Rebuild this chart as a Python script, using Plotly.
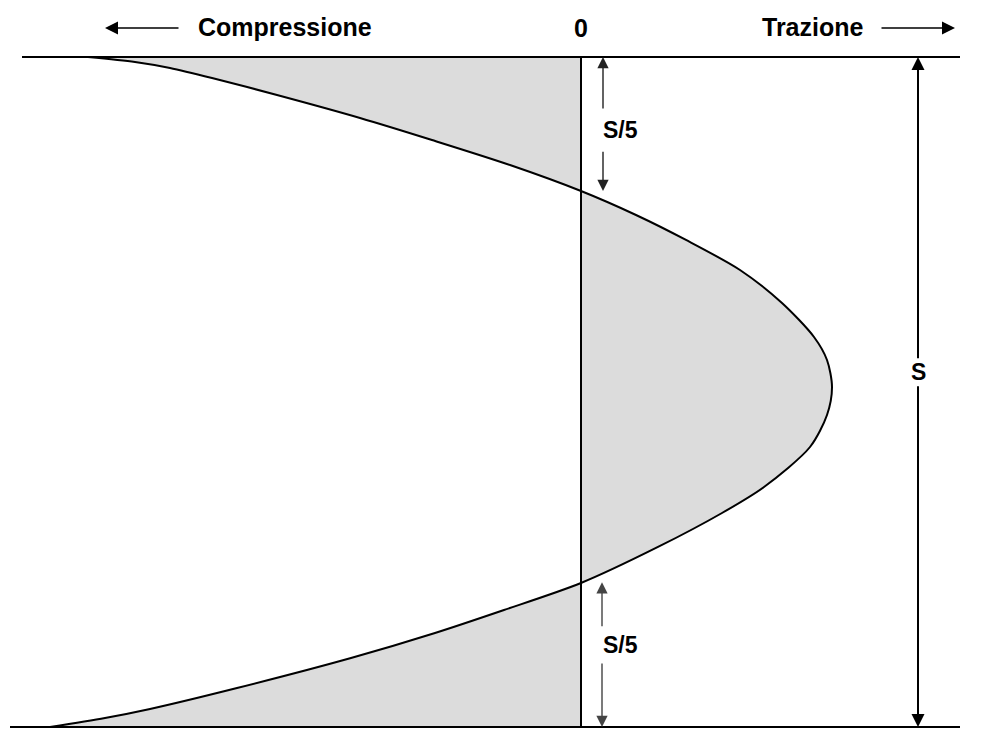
import plotly.graph_objects as go

# Stress profile: depth as fraction of thickness S (0 = top face, 1 = bottom face),
# stress normalised to the central tension peak (negative = compression, positive = tension)
depth = [0.0, 0.0075, 0.0164, 0.0313, 0.0567, 0.0910, 0.1239, 0.1612, 0.2000, 0.2358,
         0.2731, 0.3179, 0.3672, 0.4179, 0.4522, 0.4925, 0.5343, 0.5821, 0.6418, 0.6806,
         0.7313, 0.7851, 0.8254, 0.8597, 0.8970, 0.9418, 0.9731, 0.9866, 1.0]
stress = [-1.972, -1.784, -1.644, -1.476, -1.216, -0.884, -0.596, -0.284, 0.0, 0.22,
          0.42, 0.636, 0.804, 0.932, 0.984, 1.004, 0.984, 0.916, 0.732, 0.564,
          0.308, 0.0, -0.308, -0.584, -0.92, -1.376, -1.724, -1.904, -2.124]

header_labels = ["Compressione", "0", "Trazione"]
dim_labels = ["S/5", "S/5", "S"]

fig = go.Figure()

# shaded stress area
fig.add_trace(go.Scatter(
    x=stress, y=depth, mode="lines", fill="tozerox",
    fillcolor="#dcdcdc", line=dict(color="black", width=2, shape="spline", smoothing=0.8),
    hoverinfo="skip", showlegend=False))

line_col = "black"
# faces of the plate
fig.add_shape(type="line", x0=-2.236, x1=1.516, y0=0, y1=0, line=dict(color=line_col, width=2))
fig.add_shape(type="line", x0=-2.284, x1=1.516, y0=1, y1=1, line=dict(color=line_col, width=2))
# zero stress line
fig.add_shape(type="line", x0=0, x1=0, y0=0, y1=1, line=dict(color=line_col, width=2))

font = dict(family="Liberation Sans, Arial, sans-serif", size=25, color="black", weight="bold")
font_s = dict(family="Liberation Sans, Arial, sans-serif", size=23, color="black", weight="bold")

def arrow(x, y, ax, ay, width=1.5, color="black", size=1.3):
    fig.add_annotation(x=x, y=y, ax=ax, ay=ay, xref="x", yref="y", axref="x", ayref="y",
                       text="", showarrow=True, arrowhead=2, arrowsize=size,
                       arrowwidth=width, arrowcolor=color, standoff=0, startstandoff=0)

# header
arrow(-1.904, -0.0433, -1.604, -0.0433, width=1.3, size=2.0)
arrow(1.496, -0.0433, 1.196, -0.0433, width=1.3, size=2.0)
fig.add_annotation(x=-1.184, y=-0.0448, text=header_labels[0], showarrow=False, font=font,
                   xref="x", yref="y")
fig.add_annotation(x=0.0, y=-0.0433, text=header_labels[1], showarrow=False, font=font,
                   xref="x", yref="y")
fig.add_annotation(x=0.928, y=-0.0448, text=header_labels[2], showarrow=False, font=font,
                   xref="x", yref="y")

# S/5 top dimension
xs5 = 0.088
arrow(xs5, 0.0, xs5, 0.079, width=1.4, color="#222222", size=1.6)
arrow(xs5, 0.200, xs5, 0.139, width=1.4, color="#222222", size=1.6)
fig.add_annotation(x=0.156, y=0.109, text=dim_labels[0], showarrow=False, font=font_s)

# S/5 bottom dimension
xs5b = 0.084
arrow(xs5b, 0.784, xs5b, 0.852, width=1.4, color="#444444", size=1.6)
arrow(xs5b, 1.0, xs5b, 0.903, width=1.4, color="#444444", size=1.6)
fig.add_annotation(x=0.156, y=0.878, text=dim_labels[1], showarrow=False, font=font_s)

# S dimension
xS = 1.348
arrow(xS, 0.0, xS, 0.452, width=2, size=1.3)
arrow(xS, 1.0, xS, 0.489, width=2, size=1.3)
fig.add_annotation(x=xS, y=0.470, text=dim_labels[2], showarrow=False, font=font_s)

fig.update_xaxes(visible=False, range=[-2.324, 1.604], fixedrange=True)
fig.update_yaxes(visible=False, range=[1.00896, -0.08507], fixedrange=True)
fig.update_layout(width=982, height=733, margin=dict(l=0, r=0, t=0, b=0),
                  plot_bgcolor="white", paper_bgcolor="white", showlegend=False)

fig.write_html("out.html", config={"displayModeBar": False},
               post_script="document.body.style.margin='0';")
